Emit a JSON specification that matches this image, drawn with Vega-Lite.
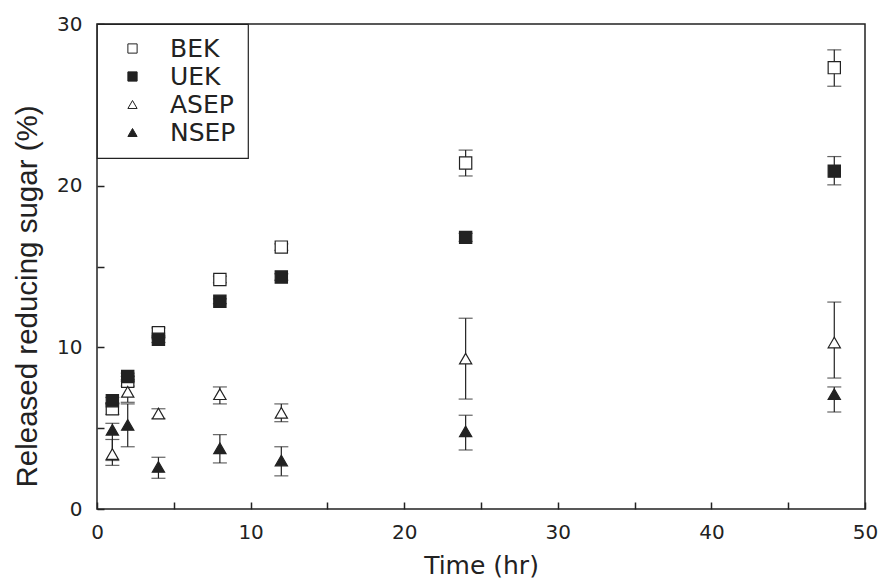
{
  "$schema": "https://vega.github.io/schema/vega-lite/v6.json",
  "width": 768,
  "height": 485,
  "autosize": "none",
  "padding": {"left": 97, "top": 24, "right": 15, "bottom": 74},
  "background": "white",
  "config": {
    "font": "DejaVu Sans",
    "view": {"stroke": "#222", "strokeWidth": 1.5},
    "axis": {
      "grid": false,
      "domain": false,
      "ticks": true,
      "tickColor": "#222",
      "tickWidth": 1.5,
      "tickSize": -7,
      "labelColor": "#222",
      "titleColor": "#222",
      "titleFontWeight": "normal",
      "labelFlush": false
    },
    "legend": {
      "orient": "top-left",
      "offset": 0,
      "strokeColor": "#222",
      "strokeWidth": 1.2,
      "fillColor": "white",
      "padding": 12,
      "rowPadding": 2,
      "symbolSize": 85,
      "symbolStrokeWidth": 1,
      "symbolOffset": 11,
      "labelOffset": 25,
      "labelFont": "DejaVu Sans",
      "labelFontSize": 25,
      "labelColor": "#222",
      "labelLimit": 400,
      "titleOrient": "right",
      "titlePadding": 0,
      "titleFont": "DejaVu Sans",
      "titleFontSize": 25,
      "titleColor": "#222"
    }
  },
  "data": {
    "values": [
      {"t": 1, "s": "BEK", "y": 6.2, "lo": 5.85, "hi": 6.55},
      {"t": 2, "s": "BEK", "y": 7.9, "lo": 7.6, "hi": 8.2},
      {"t": 4, "s": "BEK", "y": 10.9, "lo": 10.6, "hi": 11.2},
      {"t": 8, "s": "BEK", "y": 14.2, "lo": 14.0, "hi": 14.4},
      {"t": 12, "s": "BEK", "y": 16.2, "lo": 16.0, "hi": 16.4},
      {"t": 24, "s": "BEK", "y": 21.4, "lo": 20.6, "hi": 22.2},
      {"t": 48, "s": "BEK", "y": 27.3, "lo": 26.15, "hi": 28.4},
      {"t": 1, "s": "UEK", "y": 6.7, "lo": 6.5, "hi": 6.9},
      {"t": 2, "s": "UEK", "y": 8.2, "lo": 8.0, "hi": 8.4},
      {"t": 4, "s": "UEK", "y": 10.5, "lo": 10.3, "hi": 10.7},
      {"t": 8, "s": "UEK", "y": 12.85, "lo": 12.7, "hi": 13.0},
      {"t": 12, "s": "UEK", "y": 14.35, "lo": 14.15, "hi": 14.55},
      {"t": 24, "s": "UEK", "y": 16.8, "lo": 16.55, "hi": 17.05},
      {"t": 48, "s": "UEK", "y": 20.9, "lo": 20.05, "hi": 21.8},
      {"t": 1, "s": "ASEP", "y": 3.4, "lo": 2.7, "hi": 4.3},
      {"t": 2, "s": "ASEP", "y": 7.25, "lo": 6.6, "hi": 7.9},
      {"t": 4, "s": "ASEP", "y": 5.9, "lo": 5.6, "hi": 6.2},
      {"t": 8, "s": "ASEP", "y": 7.1, "lo": 6.5, "hi": 7.55},
      {"t": 12, "s": "ASEP", "y": 5.95, "lo": 5.4, "hi": 6.5},
      {"t": 24, "s": "ASEP", "y": 9.3, "lo": 6.8, "hi": 11.8},
      {"t": 48, "s": "ASEP", "y": 10.3, "lo": 8.1, "hi": 12.8},
      {"t": 1, "s": "NSEP", "y": 4.9, "lo": 3.0, "hi": 5.3},
      {"t": 2, "s": "NSEP", "y": 5.2, "lo": 3.85, "hi": 6.5},
      {"t": 4, "s": "NSEP", "y": 2.6, "lo": 1.9, "hi": 3.2},
      {"t": 8, "s": "NSEP", "y": 3.75, "lo": 2.85, "hi": 4.6},
      {"t": 12, "s": "NSEP", "y": 3.0, "lo": 2.05, "hi": 3.85},
      {"t": 24, "s": "NSEP", "y": 4.8, "lo": 3.65, "hi": 5.8},
      {"t": 48, "s": "NSEP", "y": 7.1, "lo": 6.0, "hi": 7.55}
    ]
  },
  "encoding": {
    "x": {
      "field": "t", "type": "quantitative",
      "scale": {"domain": [0, 50], "nice": false},
      "axis": {"title": "Time (hr)", "values": [0, 5, 10, 15, 20, 25, 30, 35, 40, 45, 50],
               "labelExpr": "datum.value % 10 === 0 ? datum.label : ''",
               "labelFont": "DejaVu Sans", "labelFontSize": 20,
               "titleFont": "DejaVu Sans", "titleFontSize": 25,
               "labelPadding": 20, "titlePadding": 11}
    }
  },
  "layer": [
    {
      "mark": {"type": "rule", "color": "#222", "strokeWidth": 1.2},
      "encoding": {
        "y": {"field": "lo", "type": "quantitative", "scale": {"domain": [0, 30], "nice": false},
              "axis": {"title": "Released reducing sugar (%)", "values": [0, 5, 10, 15, 20, 25, 30],
                       "labelExpr": "datum.value % 10 === 0 ? datum.label : ''",
                       "labelFont": "DejaVu Sans", "labelFontSize": 20,
                       "titleFont": "Liberation Sans", "titleFontSize": 29.5,
                       "titleY": 272,
                       "labelPadding": 22, "titlePadding": 14}},
        "y2": {"field": "hi"}
      }
    },
    {
      "mark": {"type": "tick", "orient": "horizontal", "color": "#222", "size": 14, "thickness": 1.2},
      "encoding": {"y": {"field": "lo", "type": "quantitative"}}
    },
    {
      "mark": {"type": "tick", "orient": "horizontal", "color": "#222", "size": 14, "thickness": 1.2},
      "encoding": {"y": {"field": "hi", "type": "quantitative"}}
    },
    {
      "mark": {"type": "point", "filled": true, "strokeWidth": 1.2, "size": 150, "opacity": 1},
      "encoding": {
        "y": {"field": "y", "type": "quantitative"},
        "shape": {"field": "s", "type": "nominal",
                  "scale": {"domain": ["BEK", "UEK", "ASEP", "NSEP"], "range": ["square", "square", "triangle-up", "triangle-up"]},
                  "legend": {"title": "\u00a0\u00a0\u00a0"}},
        "fill": {"field": "s", "type": "nominal",
                 "scale": {"domain": ["BEK", "UEK", "ASEP", "NSEP"], "range": ["white", "#222", "white", "#222"]},
                 "legend": {"title": "\u00a0\u00a0\u00a0"}},
        "stroke": {"field": "s", "type": "nominal",
                   "scale": {"domain": ["BEK", "UEK", "ASEP", "NSEP"], "range": ["#222", "#222", "#222", "#222"]},
                   "legend": {"title": "\u00a0\u00a0\u00a0"}}
      }
    }
  ]
}
